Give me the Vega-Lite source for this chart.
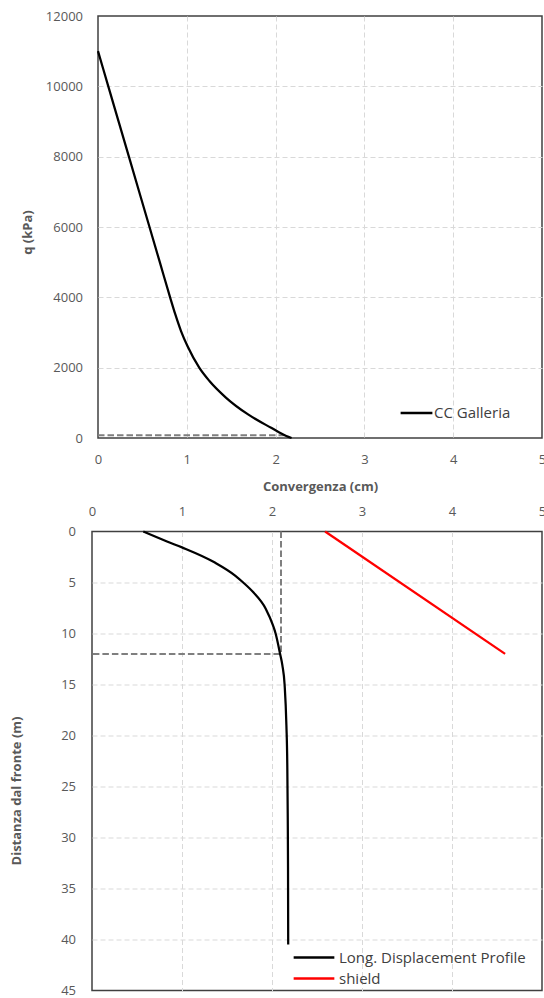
{
  "$schema": "https://vega.github.io/schema/vega-lite/v6.json",
  "background": "white",
  "padding": {"left": 8, "top": 9, "right": 0, "bottom": 0},
  "columns": 1,
  "bounds": "full",
  "spacing": {"row": 9.5, "column": 0},
  "config": {
    "font": "Open Sans",
    "view": {"stroke": "#404040", "strokeWidth": 1.5},
    "axis": {
      "labelFont": "Open Sans", "labelFontSize": 13, "labelColor": "#595959",
      "titleFont": "Open Sans", "titleFontSize": 13, "titleFontWeight": "bold", "titleColor": "#595959",
      "domain": false, "ticks": false, "tickSize": 0,
      "grid": true, "gridColor": "#D9D9D9", "gridDash": [5, 3], "gridWidth": 1,
      "labelFlush": false, "labelOverlap": false, "labelBound": false
    },
    "legend": {
      "labelFont": "Open Sans", "labelFontSize": 15, "labelColor": "#404040", "labelLimit": 400,
      "symbolType": "stroke", "symbolStrokeWidth": 2.5, "padding": 0, "title": null, "clipHeight": 16, "rowPadding": 5
    }
  },
  "resolve": {"scale": {"color": "independent"}, "legend": {"color": "independent"}},
  "concat": [
    {
      "spacing": 0,
      "resolve": {"scale": {"color": "independent"}, "legend": {"color": "independent"}},
      "hconcat": [
        {
          "width": 12, "height": 10, "view": {"stroke": null},
          "data": {"values": []},
          "mark": "point"
        },
        {
          "width": 444,
          "height": 422,
          "encoding": {
            "x": {
              "field": "x", "type": "quantitative",
              "scale": {"domain": [0, 5], "nice": false, "zero": false},
              "axis": {"values": [0, 1, 2, 3, 4, 5], "title": "Convergenza (cm)", "labelPadding": 15, "titleY": 48, "titleBaseline": "middle",
                "gridOpacity": {"condition": {"test": "datum.value <= 0 || datum.value >= 5", "value": 0}, "value": 1}}
            },
            "y": {
              "field": "q", "type": "quantitative",
              "scale": {"domain": [0, 12000], "nice": false},
              "axis": {"values": [0, 2000, 4000, 6000, 8000, 10000, 12000], "format": "d", "title": "q (kPa)", "titleX": -70.5, "titleY": 216, "titleBaseline": "middle", "titleAlign": "center", "titleAngle": -90, "labelPadding": 15.5,
                "gridOpacity": {"condition": {"test": "datum.value <= 0 || datum.value >= 12000", "value": 0}, "value": 1}}
            }
          },
          "layer": [
            {
              "data": {"values": [{"x": 0, "q": 80}, {"x": 2.1, "q": 80}]},
              "mark": {"type": "line", "color": "#7F7F7F", "strokeWidth": 2, "strokeDash": [6.5, 3], "interpolate": "linear"}
            },
            {
              "data": {"values": [
                {"s": "CC Galleria", "x": 0, "q": 11000},
                {"s": "CC Galleria", "x": 0.116, "q": 10000},
                {"s": "CC Galleria", "x": 0.348, "q": 8000},
                {"s": "CC Galleria", "x": 0.58, "q": 6000},
                {"s": "CC Galleria", "x": 0.696, "q": 5000},
                {"s": "CC Galleria", "x": 0.812, "q": 4000},
                {"s": "CC Galleria", "x": 0.87, "q": 3520},
                {"s": "CC Galleria", "x": 0.935, "q": 3040},
                {"s": "CC Galleria", "x": 1.01, "q": 2600},
                {"s": "CC Galleria", "x": 1.14, "q": 2000},
                {"s": "CC Galleria", "x": 1.255, "q": 1620},
                {"s": "CC Galleria", "x": 1.44, "q": 1150},
                {"s": "CC Galleria", "x": 1.69, "q": 670},
                {"s": "CC Galleria", "x": 1.95, "q": 290},
                {"s": "CC Galleria", "x": 2.12, "q": 57},
                {"s": "CC Galleria", "x": 2.18, "q": 0}
              ]},
              "mark": {"type": "line", "strokeWidth": 2.25, "interpolate": "monotone"},
              "encoding": {
                "color": {
                  "field": "s", "type": "nominal",
                  "scale": {"domain": ["CC Galleria"], "range": ["#000000"]},
                  "legend": {"orient": "none", "legendX": 301, "legendY": 389, "symbolSize": 1010, "labelOffset": 0}
                }
              }
            }
          ]
        }
      ]
    },
    {
      "spacing": 0,
      "resolve": {"scale": {"color": "independent"}, "legend": {"color": "independent"}},
      "hconcat": [
        {
          "width": 1, "height": 10, "view": {"stroke": null},
          "data": {"values": []},
          "mark": "point"
        },
        {
          "width": 450,
          "height": 459,
          "encoding": {
            "x": {
              "field": "x", "type": "quantitative",
              "scale": {"domain": [0, 5], "nice": false, "zero": false},
              "axis": {"orient": "top", "values": [0, 1, 2, 3, 4, 5], "title": null, "labelPadding": 13.4,
                "gridOpacity": {"condition": {"test": "datum.value <= 0 || datum.value >= 5", "value": 0}, "value": 1}}
            },
            "y": {
              "field": "d", "type": "quantitative",
              "scale": {"domain": [0, 45], "nice": false, "reverse": true},
              "axis": {"values": [0, 5, 10, 15, 20, 25, 30, 35, 40, 45], "title": "Distanza dal fronte (m)", "titleX": -75.5, "titleY": 259, "titleBaseline": "middle", "titleAlign": "center", "titleAngle": -90, "labelPadding": 16.5,
                "gridOpacity": {"condition": {"test": "datum.value <= 0 || datum.value >= 45", "value": 0}, "value": 1}}
            }
          },
          "layer": [
            {
              "data": {"values": [{"i": 0, "x": 2.1, "d": 0}, {"i": 1, "x": 2.1, "d": 12}, {"i": 2, "x": 0, "d": 12}]},
              "mark": {"type": "line", "color": "#7F7F7F", "strokeWidth": 2, "strokeDash": [6.5, 3], "interpolate": "linear"},
              "encoding": {"order": {"field": "i", "type": "quantitative"}}
            },
            {
              "data": {"values": [
                {"s": "Long. Displacement Profile", "x": 0.57, "d": 0},
                {"s": "Long. Displacement Profile", "x": 0.84, "d": 1.0},
                {"s": "Long. Displacement Profile", "x": 1.0, "d": 1.56},
                {"s": "Long. Displacement Profile", "x": 1.36, "d": 3.02},
                {"s": "Long. Displacement Profile", "x": 1.59, "d": 4.32},
                {"s": "Long. Displacement Profile", "x": 1.68, "d": 5.0},
                {"s": "Long. Displacement Profile", "x": 1.79, "d": 5.94},
                {"s": "Long. Displacement Profile", "x": 1.93, "d": 7.57},
                {"s": "Long. Displacement Profile", "x": 2.01, "d": 9.19},
                {"s": "Long. Displacement Profile", "x": 2.04, "d": 10.0},
                {"s": "Long. Displacement Profile", "x": 2.09, "d": 12.0},
                {"s": "Long. Displacement Profile", "x": 2.115, "d": 13.1},
                {"s": "Long. Displacement Profile", "x": 2.14, "d": 15},
                {"s": "Long. Displacement Profile", "x": 2.16, "d": 19},
                {"s": "Long. Displacement Profile", "x": 2.17, "d": 23},
                {"s": "Long. Displacement Profile", "x": 2.175, "d": 28},
                {"s": "Long. Displacement Profile", "x": 2.178, "d": 33},
                {"s": "Long. Displacement Profile", "x": 2.18, "d": 40.5},
                {"s": "shield", "x": 2.59, "d": 0},
                {"s": "shield", "x": 4.59, "d": 12}
              ]},
              "mark": {"type": "line", "strokeWidth": 2.25, "interpolate": "monotone"},
              "encoding": {
                "order": {"field": "d", "type": "quantitative"},
                "color": {
                  "field": "s", "type": "nominal",
                  "scale": {"domain": ["Long. Displacement Profile", "shield"], "range": ["#000000", "#FF0000"]},
                  "legend": {"orient": "none", "legendX": 200, "legendY": 418, "symbolSize": 1656, "labelOffset": 3}
                }
              }
            }
          ]
        }
      ]
    }
  ]
}
